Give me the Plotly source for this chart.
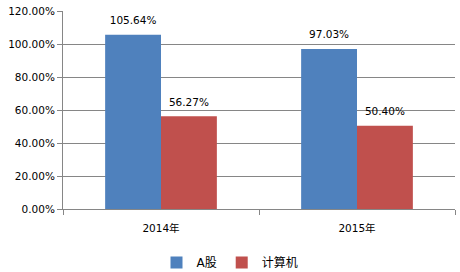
import plotly.graph_objects as go

categories = ["2014年", "2015年"]
series_a = [105.64, 97.03]
series_b = [56.27, 50.40]
names = ["A股", "计算机"]
colors = ["#4F81BD", "#C0504D"]
y_ticks = [0, 20, 40, 60, 80, 100, 120]

font_family = "DejaVu Sans, Noto Sans CJK SC"
fig = go.Figure()
for name, vals, col in zip(names, [series_a, series_b], colors):
    fig.add_trace(go.Bar(
        x=categories, y=vals, name=name, marker_color=col, marker_line_width=0,
        text=[f"<span style='font-size:10.5px'>{v:.2f}%</span><br> " for v in vals],
        textposition="outside",
        textfont=dict(size=5, color="#000000", family=font_family),
        cliponaxis=False,
    ))

fig.update_layout(
    width=460, height=272,
    margin=dict(l=63, r=5, t=11, b=63),
    paper_bgcolor="white", plot_bgcolor="white",
    barmode="group", bargap=0.43, bargroupgap=0,
    font=dict(family=font_family, size=10, color="#000000"),
    showlegend=True,
    legend=dict(orientation="h", xref="container", yref="container",
                x=0.5, xanchor="center", y=0.035, yanchor="middle",
                font=dict(size=12), itemwidth=30, tracegroupgap=0),
)
fig.update_xaxes(
    showline=True, linecolor="#868686", linewidth=1,
    ticks="outside", tickson="boundaries", ticklen=5, tickcolor="#868686",
    showgrid=False, tickfont=dict(size=10.5), ticklabelstandoff=9,
)
fig.update_yaxes(
    range=[0, 120], tickvals=y_ticks, ticktext=[f"{v:.2f}%" for v in y_ticks],
    showline=True, linecolor="#868686", linewidth=1,
    ticks="outside", ticklen=5, tickcolor="#868686",
    showgrid=True, gridcolor="#868686", gridwidth=1,
    zeroline=False, tickfont=dict(size=10.5),
)
fig.write_html("out.html")
